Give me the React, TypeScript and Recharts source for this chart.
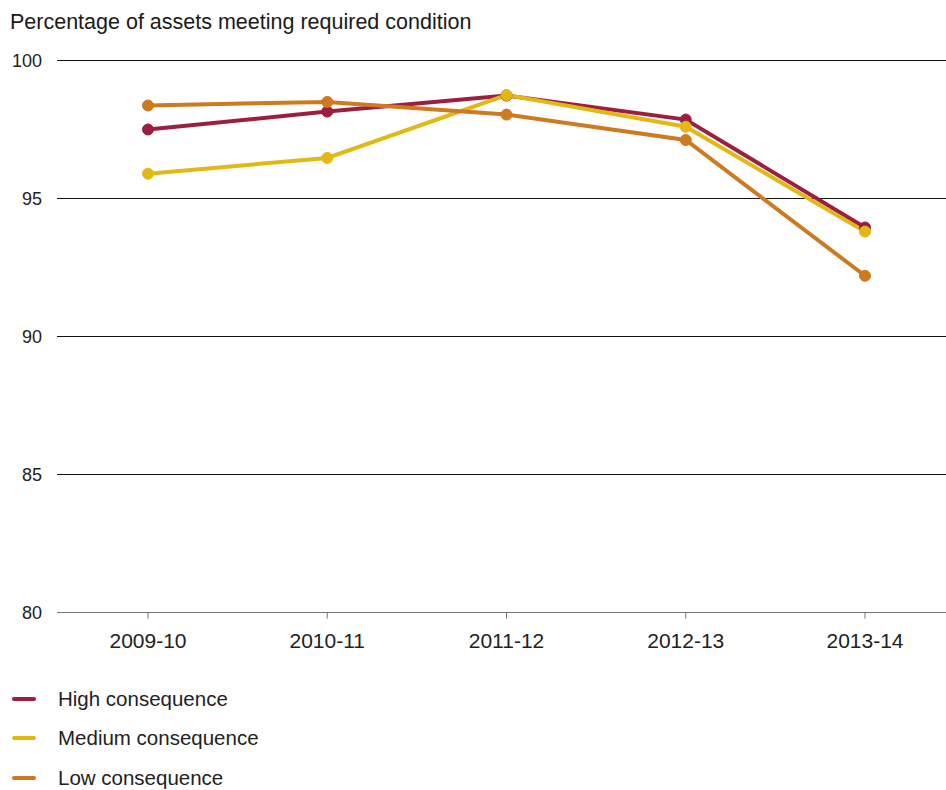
import { LineChart, Line, XAxis, YAxis, CartesianGrid } from 'recharts';

// Financial years on the x axis
const years = ['2009-10', '2010-11', '2011-12', '2012-13', '2013-14'];

// Percentage of assets meeting required condition, per consequence level
const highConsequence = [97.5, 98.15, 98.73, 97.86, 93.95];
const mediumConsequence = [95.9, 96.47, 98.75, 97.6, 93.8];
const lowConsequence = [98.37, 98.5, 98.04, 97.12, 92.2];

const yTicks = [80, 85, 90, 95, 100];

const SERIES = [
    { key: 'high', name: 'High consequence', color: '#9c1f40' },
    { key: 'medium', name: 'Medium consequence', color: '#e2b815' },
    { key: 'low', name: 'Low consequence', color: '#cd7a20' },
];

const FONT = '"Liberation Sans", Arial, Helvetica, sans-serif';

export default function App() {
    const data = years.map((year, i) => ({
        year,
        high: highConsequence[i],
        medium: mediumConsequence[i],
        low: lowConsequence[i],
    }));

    return (
        <div style={{ position: 'absolute', left: 0, top: 0, width: 946, height: 790, background: '#fff', fontFamily: FONT }}>
            <div style={{ position: 'absolute', left: 10, top: 9, fontSize: 21.5, color: '#1a1a1a', lineHeight: '26px' }}>
                Percentage of assets meeting required condition
            </div>
            <LineChart
                width={946}
                height={680}
                data={data}
                margin={{ top: 60.5, right: 0, bottom: 0, left: 0 }}
                style={{ position: 'absolute', left: 0, top: 0 }}
            >
                <CartesianGrid vertical={false} stroke="#111" strokeWidth={1} />
                <XAxis
                    dataKey="year"
                    scale="point"
                    padding={{ left: 91, right: 81 }}
                    height={67.5}
                    stroke="#777"
                    tickSize={6}
                    tickMargin={15}
                    tick={{ fill: '#222', fontSize: 21, fontFamily: FONT }}
                />
                <YAxis
                    domain={[80, 100]}
                    ticks={yTicks}
                    width={57}
                    axisLine={false}
                    tickLine={false}
                    tickSize={0}
                    tickMargin={15}
                    tick={{ fill: '#222', fontSize: 18, fontFamily: FONT }}
                />
                {SERIES.map((s) => (
                    <Line
                        key={s.key}
                        type="linear"
                        dataKey={s.key}
                        name={s.name}
                        stroke={s.color}
                        strokeWidth={4}
                        dot={{ r: 5.5, fill: s.color, stroke: s.color, strokeWidth: 1 }}
                        isAnimationActive={false}
                    />
                ))}
            </LineChart>
            <div style={{ position: 'absolute', left: 12, top: 679 }}>
                {SERIES.map((s) => (
                    <div key={s.key} style={{ display: 'flex', alignItems: 'center', height: 39.5 }}>
                        <div style={{ width: 24, height: 4, borderRadius: 2, background: s.color }} />
                        <span style={{ marginLeft: 22, fontSize: 20.5, color: '#222' }}>{s.name}</span>
                    </div>
                ))}
            </div>
        </div>
    );
}
